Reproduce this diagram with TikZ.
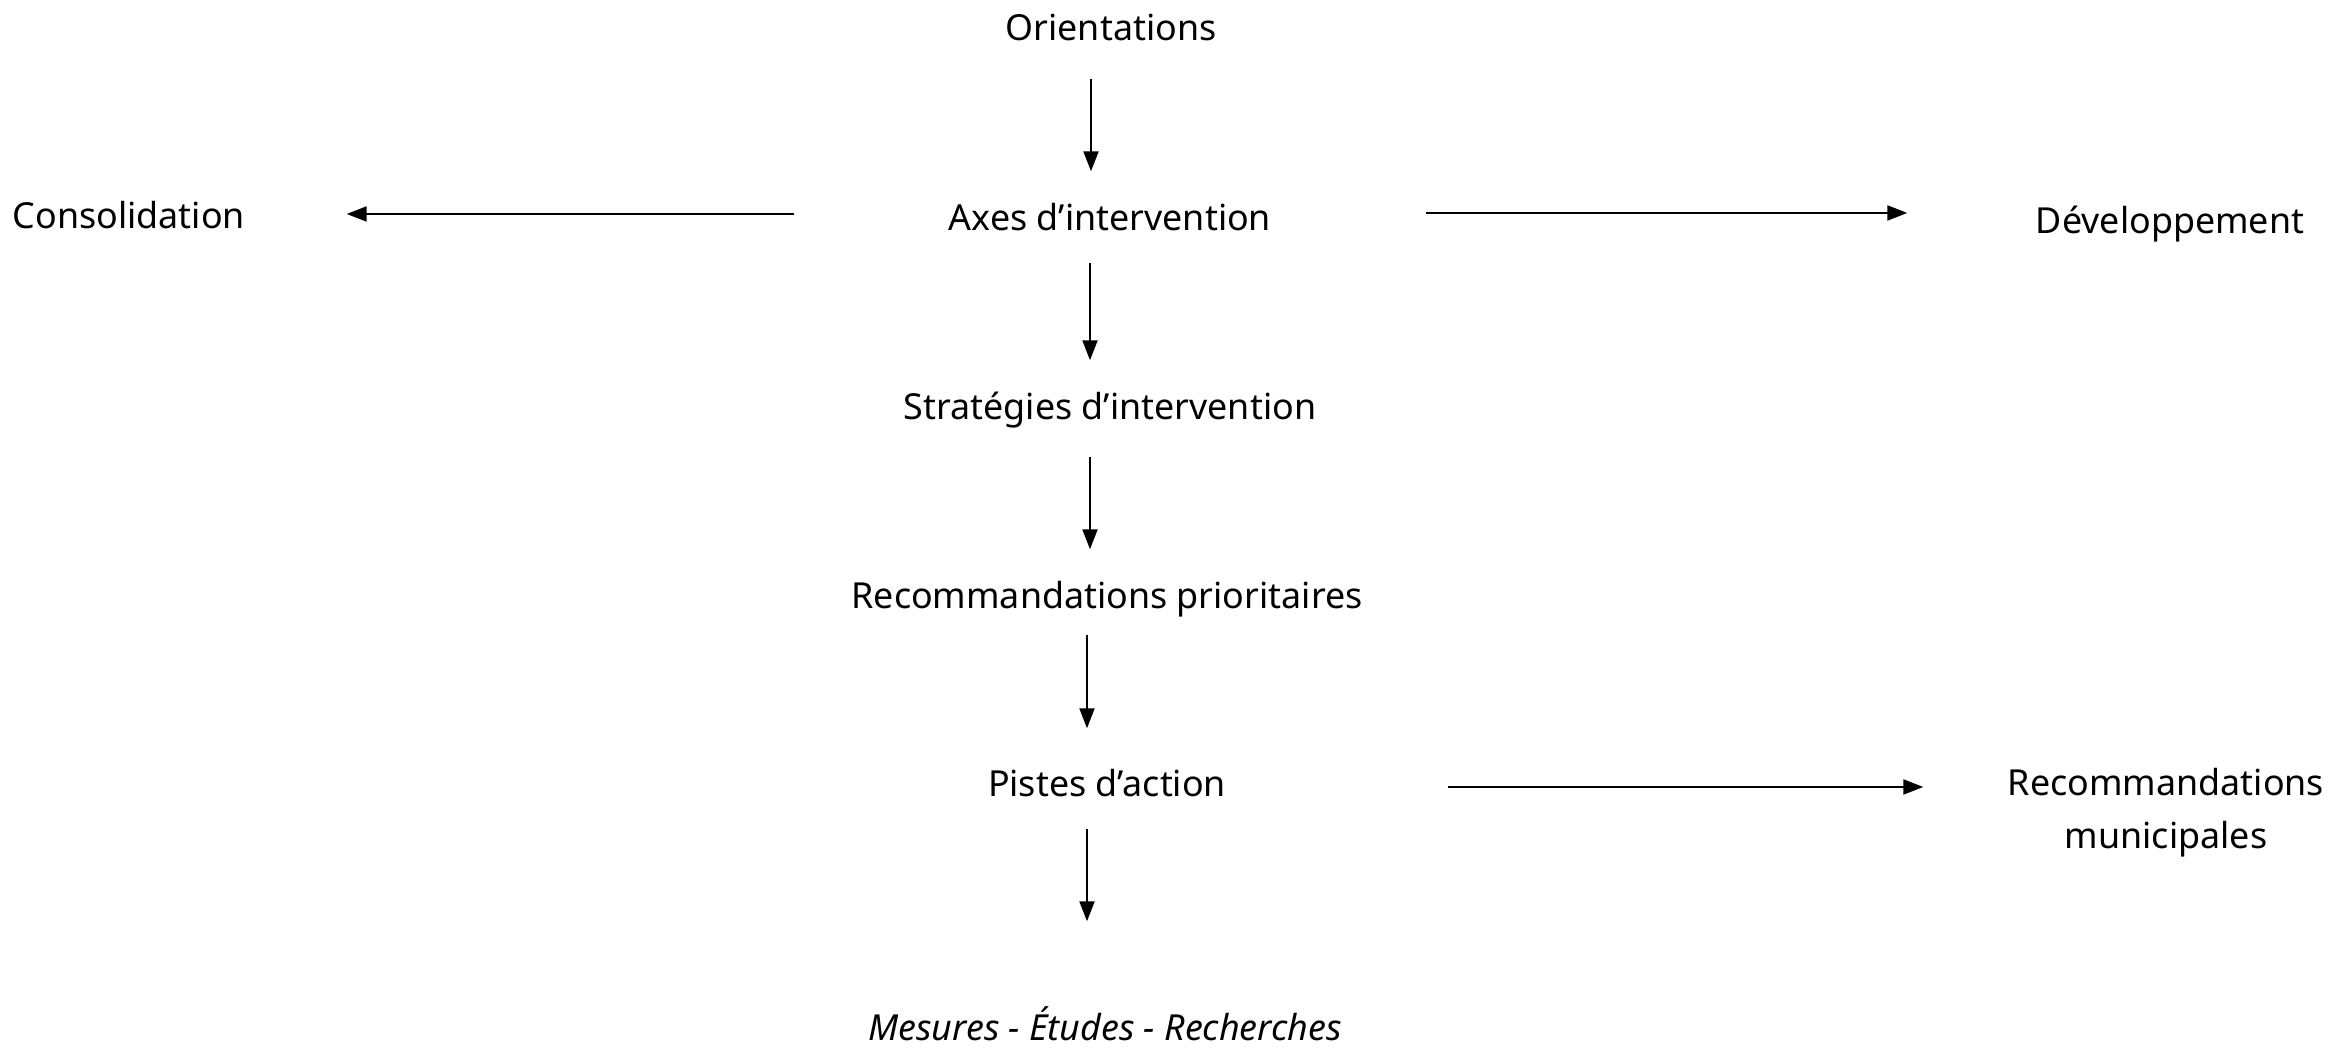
\documentclass[tikz,border=0pt]{standalone}
\usepackage{fontspec}
\setmainfont{Noto Sans}
\usetikzlibrary{arrows.meta}
\begin{document}
\begin{tikzpicture}[
  lbl/.style={inner sep=0pt, text height=0.32cm, text depth=0.04cm, minimum height=0.9cm, font=\fontsize{10.2}{12}\selectfont},
  twolbl/.style={inner sep=0pt, align=center, font=\fontsize{10.2}{15}\selectfont},
  flow/.style={line width=0.6pt, -{Triangle[length=0.2cm,width=0.15cm]}}
]
\useasboundingbox (0,0) rectangle (23.52,10.49);

% Main column
\node[lbl] (orient) at (11.11,10.22) {Orientations};
\node[lbl, minimum width=6.3cm] (axes) at (11.10,8.32) {Axes d’intervention};
\node[lbl] (strat) at (11.10,6.43) {Stratégies d’intervention};
\node[lbl] (recprio) at (11.07,4.54) {Recommandations prioritaires};
\node[lbl, minimum width=6.8cm] (pistes) at (11.07,2.66) {Pistes d’action};
\node[lbl] (mesures) at (11.05,0.22) {\itshape Mesures - Études - Recherches};

% Side nodes
\node[lbl, minimum width=4.34cm] (consol) at (1.29,8.34) {Consolidation};
\node[lbl, minimum width=5.24cm] (devel) at (21.70,8.29) {Développement};
\node[twolbl, minimum width=4.84cm] (recmun) at (21.66,2.36) {Recommandations\\municipales};

% Arrows
\draw[flow, shorten <=0.06cm] ([xshift=-2mm]orient.south) -- ([xshift=-2mm]orient.south |- axes.north);
\draw[flow] ([xshift=-2mm]axes.south) -- ([xshift=-2mm]axes.south |- strat.north);
\draw[flow, shorten <=0.05cm] ([xshift=-2mm]strat.south) -- ([xshift=-2mm]strat.south |- recprio.north);
\draw[flow, shorten <=-0.06cm, shorten >=0.09cm] ([xshift=-2mm]recprio.south) -- ([xshift=-2mm]recprio.south |- pistes.north);
\draw[flow, shorten >=0.6cm] ([xshift=-2mm]pistes.south) -- ([xshift=-2mm]pistes.south |- mesures.north);
\draw[flow] ([yshift=0.03cm]axes.west) -- ([yshift=0.03cm]axes.west -| consol.east);
\draw[flow] ([yshift=0.04cm]axes.east) -- ([yshift=0.04cm]axes.east -| devel.west);
\draw[flow] ([yshift=-0.04cm]pistes.east) -- ([yshift=-0.04cm]pistes.east -| recmun.west);
\end{tikzpicture}
\end{document}
